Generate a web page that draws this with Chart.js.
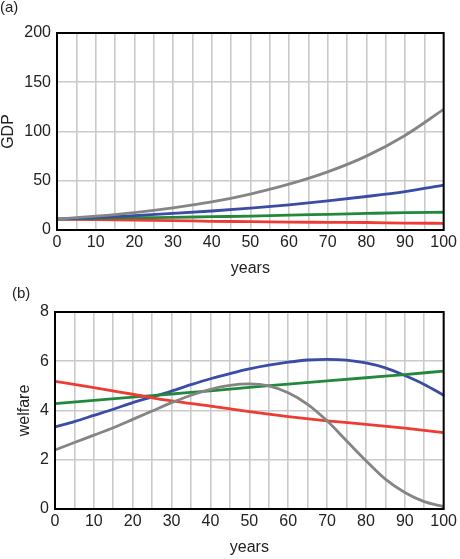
<!DOCTYPE html>
<html>
<head>
<meta charset="utf-8">
<script src="https://cdn.jsdelivr.net/npm/chart.js@4"></script>
<style>
  html, body { margin: 0; padding: 0; background: #fff; }
  body { width: 460px; height: 559px; position: relative; overflow: hidden; font-family: "Liberation Sans", Arial, sans-serif; }
  .panel { position: absolute; left: 0; width: 460px; }
  .tag { position: absolute; font-size: 15px; color: #222; }
  canvas { display: block; }
</style>
</head>
<body>
<div class="panel" style="top:0;height:280px"><canvas id="gdpChart" width="460" height="280"></canvas></div>
<div class="panel" style="top:280px;height:279px"><canvas id="welfareChart" width="460" height="279"></canvas></div>
<div class="tag" style="left:0;top:-2px">(a)</div>
<div class="tag" style="left:12px;top:284px">(b)</div>
<script>
// valeurs
const years10 = [0, 10, 20, 30, 40, 50, 60, 70, 80, 90, 100];
const years5 = [0, 5, 10, 15, 20, 25, 30, 35, 40, 45, 50, 55, 60, 65, 70, 75, 80, 85, 90, 95, 100];

const gdpGrey  = [11, 14, 17.7, 22.5, 28.5, 36.5, 46.5, 59, 75, 96, 122.5];
const gdpBlue  = [11, 12.7, 14.5, 16.8, 19.3, 22.3, 25.6, 29.6, 34, 39, 45.5];
const gdpGreen = [11, 11.8, 12.5, 12.8, 13.5, 14, 15.2, 15.9, 16.8, 17.6, 18];
const gdpRed   = [11, 10.6, 10, 9.6, 8.8, 8.5, 8, 7.8, 7.6, 7, 6.8];

const welfareGrey = [2.4, 2.7, 3.0, 3.3, 3.64, 3.98, 4.32, 4.62, 4.86, 5.02, 5.08, 5.0, 4.72, 4.25, 3.58, 2.77, 1.96, 1.21, 0.67, 0.3, 0.1];
const welfareBlue = [3.33, 3.55, 3.8, 4.05, 4.32, 4.55, 4.79, 5.05, 5.29, 5.5, 5.69, 5.84, 5.96, 6.05, 6.08, 6.05, 5.93, 5.73, 5.42, 5.06, 4.62];
const welfareGreen = [4.28, 4.41, 4.54, 4.67, 4.8, 4.94, 5.07, 5.2, 5.33, 5.46, 5.6];
const welfareRed   = [5.18, 4.93, 4.66, 4.39, 4.18, 3.95, 3.75, 3.58, 3.44, 3.28, 3.1];

const GREY = '#858585', BLUE = '#3a4ca6', GREEN = '#22893c', RED = '#ee3b33';
const FONT = { family: 'Liberation Sans', size: 16 };

// cadre noir autour de la zone de tracé
const frame = {
  id: 'frame',
  afterDraw(chart) {
    const a = chart.chartArea, c = chart.ctx;
    c.save();
    c.strokeStyle = '#000';
    c.lineWidth = 2;
    c.strokeRect(a.left, a.top, a.right - a.left, a.bottom - a.top);
    c.restore();
  }
};

const pts = (xs, ys) => xs.map((x, i) => ({ x: x, y: ys[i] }));
const line = (xs, ys, color) => ({
  data: pts(xs, ys),
  borderColor: color,
  borderWidth: 2.8,
  pointRadius: 0,
  fill: false,
  cubicInterpolationMode: 'monotone'
});

function makeChart(id, datasets, opts) {
  const ctx = document.getElementById(id)?.getContext('2d');
  if (!ctx) return;
  return new Chart(ctx, {
    type: 'line',
    data: { datasets: datasets },
    options: {
      responsive: false,
      animation: false,
      events: [],
      layout: { padding: { top: opts.top, right: 14, left: 0, bottom: 0 } },
      plugins: { legend: { display: false }, tooltip: { enabled: false } },
      scales: {
        x: {
          type: 'linear', min: 0, max: 100,
          grid: { color: '#cacaca', lineWidth: 1.6, drawTicks: false },
          border: { display: false },
          ticks: {
            stepSize: 5, padding: 3, color: '#222', font: FONT,
            maxRotation: 0, autoSkip: false,
            callback: v => (v % 10 === 0 ? v : '')
          },
          title: { display: true, text: 'years', color: '#222', padding: { top: 0, bottom: 2 }, font: FONT },
          afterFit: s => { s.height = 50; }
        },
        y: {
          min: 0, max: opts.max,
          grid: { color: '#cacaca', lineWidth: 1.6, drawTicks: false },
          border: { display: false },
          ticks: { stepSize: opts.step, padding: 6, color: '#222', font: FONT },
          title: { display: true, text: opts.ytitle, color: '#222', padding: { top: opts.tpad, bottom: 0 }, font: FONT },
          afterFit: s => { s.width = opts.left; }
        }
      }
    },
    plugins: [frame]
  });
}

makeChart('gdpChart', [
  line(years10, gdpGrey, GREY),
  line(years10, gdpBlue, BLUE),
  line(years10, gdpGreen, GREEN),
  line(years10, gdpRed, RED)
], { top: 33, max: 200, step: 50, ytitle: 'GDP', left: 57, tpad: -1 });

makeChart('welfareChart', [
  line(years5, welfareGrey, GREY),
  line(years10, welfareRed, RED),
  line(years10, welfareGreen, GREEN),
  line(years5, welfareBlue, BLUE)
], { top: 32, max: 8, step: 2, ytitle: 'welfare', left: 55, tpad: 15 });
</script>
</body>
</html>
